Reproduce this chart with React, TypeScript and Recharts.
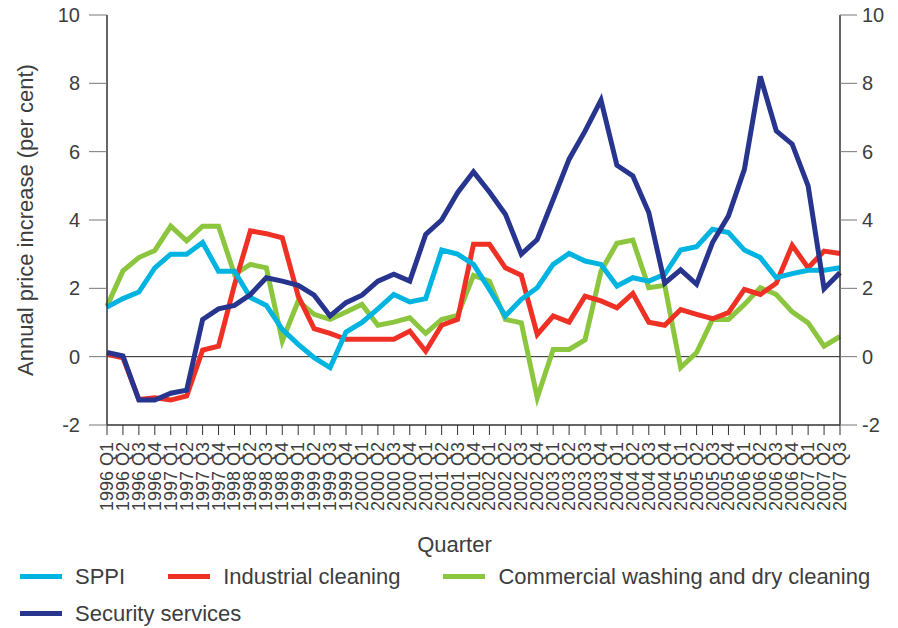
import React from "react";
import { LineChart, Line, XAxis, YAxis, ReferenceLine } from "recharts";

const quarters = [
  "1996 Q1", "1996 Q2", "1996 Q3", "1996 Q4",
  "1997 Q1", "1997 Q2", "1997 Q3", "1997 Q4",
  "1998 Q1", "1998 Q2", "1998 Q3", "1998 Q4",
  "1999 Q1", "1999 Q2", "1999 Q3", "1999 Q4",
  "2000 Q1", "2000 Q2", "2000 Q3", "2000 Q4",
  "2001 Q1", "2001 Q2", "2001 Q3", "2001 Q4",
  "2002 Q1", "2002 Q2", "2002 Q3", "2002 Q4",
  "2003 Q1", "2003 Q2", "2003 Q3", "2003 Q4",
  "2004 Q1", "2004 Q2", "2004 Q3", "2004 Q4",
  "2005 Q1", "2005 Q2", "2005 Q3", "2005 Q4",
  "2006 Q1", "2006 Q2", "2006 Q3", "2006 Q4",
  "2007 Q1", "2007 Q2", "2007 Q3",
];

const sppi = [
  1.45, 1.7, 1.89, 2.6, 3.0, 3.0, 3.34, 2.5, 2.5, 1.73,
  1.5, 0.8, 0.36, -0.03, -0.32, 0.72, 1.0, 1.4, 1.82, 1.6,
  1.7, 3.12, 3.0, 2.7, 1.97, 1.19, 1.68, 2.02, 2.7, 3.02,
  2.8, 2.7, 2.07, 2.31, 2.21, 2.41, 3.12, 3.22, 3.73, 3.63,
  3.12, 2.9, 2.31, 2.43, 2.53, 2.53, 2.6,
];

const industrial = [
  0.07, -0.03, -1.25, -1.2, -1.27, -1.15, 0.19, 0.31, 2.1, 3.68,
  3.6, 3.48, 1.77, 0.82, 0.68, 0.51, 0.51, 0.51, 0.51, 0.75,
  0.16, 0.92, 1.09, 3.29, 3.29, 2.6, 2.38, 0.65, 1.19, 1.01,
  1.77, 1.63, 1.43, 1.85, 1.01, 0.92, 1.38, 1.24, 1.11, 1.29,
  1.97, 1.82, 2.15, 3.26, 2.6, 3.09, 3.02,
];

const washing = [
  1.48, 2.51, 2.9, 3.11, 3.82, 3.39, 3.82, 3.82, 2.41, 2.7,
  2.6, 0.46, 1.63, 1.24, 1.09, 1.31, 1.53, 0.92, 1.01, 1.14,
  0.68, 1.09, 1.21, 2.38, 2.21, 1.09, 0.99, -1.2, 0.21, 0.21,
  0.49, 2.5, 3.32, 3.41, 2.02, 2.09, -0.32, 0.12, 1.09, 1.09,
  1.53, 2.02, 1.82, 1.31, 0.99, 0.31, 0.59,
];

const security = [
  0.12, 0.02, -1.27, -1.27, -1.07, -0.98, 1.09, 1.4, 1.5, 1.82,
  2.31, 2.21, 2.09, 1.8, 1.19, 1.58, 1.8, 2.21, 2.41, 2.21,
  3.58, 4.0, 4.8, 5.41, 4.82, 4.17, 3.0, 3.43, 4.6, 5.78,
  6.6, 7.51, 5.6, 5.29, 4.22, 2.15, 2.54, 2.12, 3.34, 4.12,
  5.48, 8.2, 6.61, 6.22, 5.0, 1.99, 2.46,
];

const yTicks = [-2, 0, 2, 4, 6, 8, 10];

const series = [
  { key: "sppi", name: "SPPI", color: "#00b4e1" },
  { key: "industrial", name: "Industrial cleaning", color: "#ee3124" },
  { key: "washing", name: "Commercial washing and dry cleaning", color: "#8cc63f" },
  { key: "security", name: "Security services", color: "#27358f" },
];

// draw order: green, red, cyan, navy on top
const drawOrder = ["washing", "industrial", "sppi", "security"];

const data = quarters.map((q, i) => ({
  quarter: q,
  sppi: sppi[i],
  industrial: industrial[i],
  washing: washing[i],
  security: security[i],
}));

const FONT = "'Liberation Sans', Arial, Helvetica, sans-serif";
const TEXT = "#3d3d3d";

const QuarterTick = (props: any) => {
  const { x, y, payload } = props;
  return (
    <text
      x={x}
      y={y}
      transform={`rotate(-90, ${x}, ${y})`}
      textAnchor="end"
      dominantBaseline="central"
      fontSize={18}
      fontFamily={FONT}
      fill={TEXT}
    >
      {payload.value}
    </text>
  );
};

const LegendBox = () => (
  <div
    style={{
      position: "absolute",
      left: 20,
      top: 558,
      width: 862,
      display: "flex",
      flexWrap: "wrap",
      columnGap: 43,
      fontFamily: FONT,
      fontSize: 22,
      lineHeight: "37px",
      color: TEXT,
    }}
  >
    {series.map((s) => (
      <div key={s.key} style={{ display: "flex", alignItems: "center", whiteSpace: "nowrap" }}>
        <span style={{ display: "inline-block", width: 42, height: 5, background: s.color, marginRight: 13 }} />
        <span>{s.name}</span>
      </div>
    ))}
  </div>
);

export default function App() {
  return (
    <div style={{ position: "absolute", left: 0, top: 0, width: 898, height: 628, background: "#fff" }}>
      <LineChart width={898} height={628} data={data} margin={{ top: 15, right: 0, bottom: 0, left: 0 }}>
        <XAxis
          dataKey="quarter"
          scale="point"
          interval={0}
          height={203}
          tickSize={10}
          tickMargin={7}
          tick={<QuarterTick />}
          axisLine={{ stroke: "#333", strokeWidth: 1.5 }}
          tickLine={{ stroke: "#333" }}
          label={{
            value: "Quarter",
            position: "center",
            dx: -19,
            dy: 18,
            fontSize: 22,
            fontFamily: FONT,
            fill: TEXT,
          }}
        />
        <YAxis
          yAxisId="left"
          width={107}
          domain={[-2, 10]}
          ticks={yTicks}
          tickSize={18}
          tickMargin={9}
          tick={{ fontSize: 20, fontFamily: FONT, fill: TEXT }}
          axisLine={{ stroke: "#333", strokeWidth: 1.5 }}
          tickLine={{ stroke: "#777" }}
          label={{
            value: "Annual price increase (per cent)",
            angle: -90,
            position: "center",
            dx: -28,
            fontSize: 22,
            fontFamily: FONT,
            fill: TEXT,
          }}
        />
        <YAxis
          yAxisId="right"
          orientation="right"
          width={58}
          domain={[-2, 10]}
          ticks={yTicks}
          tickSize={17}
          tickMargin={5}
          tick={{ fontSize: 20, fontFamily: FONT, fill: TEXT }}
          axisLine={{ stroke: "#333", strokeWidth: 1.5 }}
          tickLine={{ stroke: "#777" }}
        />
        <ReferenceLine yAxisId="left" y={0} stroke="#222" strokeWidth={1} />
        {/* invisible copy so the right-hand axis has a series and draws its ticks */}
        <Line
          yAxisId="right"
          dataKey="sppi"
          stroke="none"
          dot={false}
          activeDot={false}
          legendType="none"
          isAnimationActive={false}
        />
        {drawOrder.map((k) => {
          const s = series.find((x) => x.key === k)!;
          return (
            <Line
              key={s.key}
              yAxisId="left"
              type="linear"
              dataKey={s.key}
              name={s.name}
              stroke={s.color}
              strokeWidth={5}
              strokeLinejoin="miter"
              dot={false}
              activeDot={false}
              isAnimationActive={false}
            />
          );
        })}
      </LineChart>
      <LegendBox />
    </div>
  );
}
